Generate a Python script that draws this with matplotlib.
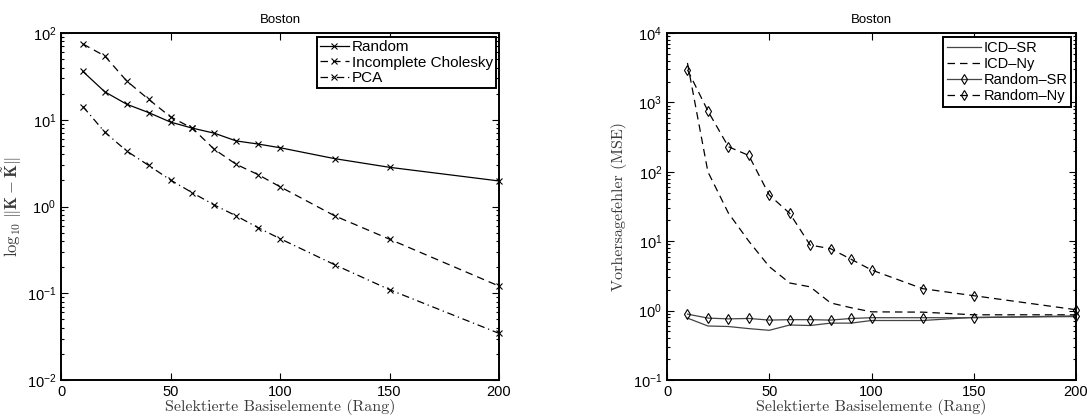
import matplotlib
matplotlib.use("Agg")
import matplotlib.pyplot as plt
from matplotlib.ticker import LogLocator, NullFormatter, FixedLocator

plt.rcParams['mathtext.fontset'] = 'cm'
plt.rcParams['font.family'] = ['Liberation Sans', 'DejaVu Sans']

# ---- data -------------------------------------------------------------
rank = [10, 20, 30, 40, 50, 60, 70, 80, 90, 100, 125, 150, 200]

# approximation error of the kernel matrix
err_random = [36, 21, 15.1, 12.1, 9.4, 8.0, 7.0, 5.7, 5.25, 4.76, 3.56, 2.83, 1.97]
err_icd = [74.7, 54.3, 28, 17.2, 10.8, 7.97, 4.56, 3.06, 2.33, 1.69, 0.78, 0.42, 0.121]
err_pca = [14.2, 7.2, 4.36, 2.98, 2.02, 1.44, 1.04, 0.78, 0.57, 0.426, 0.213, 0.11, 0.0345]

# prediction error (MSE)
mse_icd_sr = [0.78, 0.60, 0.59, 0.55, 0.52, 0.62, 0.61, 0.66, 0.66, 0.72, 0.72, 0.80, 0.82]
mse_icd_ny = [3700, 100, 25.5, 10, 4.3, 2.5, 2.2, 1.29, 1.1, 0.96, 0.95, 0.87, 0.87]
mse_rand_sr = [0.89, 0.78, 0.76, 0.77, 0.73, 0.74, 0.74, 0.73, 0.77, 0.79, 0.79, 0.79, 0.84]
mse_rand_ny = [2960, 752, 230, 172, 46.3, 25.2, 8.8, 7.8, 5.5, 3.85, 2.07, 1.64, 1.03]

x_ticks = [0, 50, 100, 150, 200]
title = "Boston"
xlabel = "Selektierte Basiselemente (Rang)"

# ---- figure -----------------------------------------------------------
W, H = 1087, 417
fig = plt.figure(figsize=(W / 100, H / 100), dpi=100)

def make_axes(x0, x1, y0, y1):
    return fig.add_axes([x0 / W, (H - y1) / H, (x1 - x0) / W, (y1 - y0) / H])

ax1 = make_axes(61, 499, 33, 380)
ax2 = make_axes(667, 1076, 33, 380)

label_color = '#3a3a3a'
serif = 'cmr10'

def style(ax, ylim):
    ax.set_yscale('log')
    ax.set_xlim(0, 200)
    ax.set_ylim(*ylim)
    ax.xaxis.set_major_locator(FixedLocator(x_ticks))
    ax.yaxis.set_major_locator(LogLocator(base=10, numticks=20))
    ax.yaxis.set_minor_locator(LogLocator(base=10, subs=range(2, 10), numticks=20))
    ax.yaxis.set_minor_formatter(NullFormatter())
    ax.tick_params(which='both', direction='in', top=True, right=True,
                   labelsize=10.5, colors='black', width=0.8)
    ax.tick_params(which='major', length=5)
    ax.tick_params(which='minor', length=2.5)
    for s in ax.spines.values():
        s.set_linewidth(1.4)
    ax.set_title(title, fontsize=9.5, pad=7)
    ax.set_xlabel(xlabel, fontsize=11.5, family=serif, color=label_color, labelpad=0)

lw = 0.9
ms = 5

# left panel
style(ax1, (1e-2, 1e2))
ax1.plot(rank, err_random, '-', color='black', lw=lw, marker='x', ms=ms, mew=0.8,
         clip_on=False, label='Random')
ax1.plot(rank, err_icd, color='black', lw=lw, ls=(0, (6, 4)), marker='x', ms=ms,
         mew=0.8, clip_on=False, label='Incomplete Cholesky')
ax1.plot(rank, err_pca, color='black', lw=lw, ls=(0, (6, 3, 1, 3)), marker='x',
         ms=ms, mew=0.8, clip_on=False, label='PCA')
ax1.set_ylabel(r'$\log_{10}\,\|\mathbf{K}-\tilde{\mathbf{K}}\|$', fontsize=12,
               color=label_color, labelpad=2)
leg1 = ax1.legend(loc='upper right', bbox_to_anchor=(0.993, 0.988), fontsize=11,
                  frameon=True, fancybox=False, edgecolor='black', framealpha=1,
                  handlelength=1.9, handletextpad=0.2, borderpad=0.2,
                  labelspacing=0.1, borderaxespad=0)
leg1.get_frame().set_linewidth(1.4)

# right panel
style(ax2, (1e-1, 1e4))
ax2.plot(rank, mse_icd_sr, '-', color='#444444', lw=lw, clip_on=False,
         label='ICD\u2013SR')
ax2.plot(rank, mse_icd_ny, color='black', lw=lw, ls=(0, (6, 4)), clip_on=False,
         label='ICD\u2013Ny')
ax2.plot(rank, mse_rand_sr, '-', color='#444444', lw=lw, marker='d', ms=5.5,
         mfc='none', mec='black', mew=0.8, clip_on=False, label='Random\u2013SR')
ax2.plot(rank, mse_rand_ny, color='black', lw=lw, ls=(0, (6, 4)), marker='d', ms=5.5,
         mfc='none', mec='black', mew=0.8, clip_on=False, label='Random\u2013Ny')
ax2.set_ylabel('Vorhersagefehler (MSE)', fontsize=11.5, family=serif,
               color=label_color, labelpad=4)
leg2 = ax2.legend(loc='upper right', bbox_to_anchor=(0.988, 0.988), fontsize=10.5,
                  frameon=True, fancybox=False, edgecolor='black', framealpha=1,
                  handlelength=2.3, handletextpad=0.2, borderpad=0.25,
                  labelspacing=0.15, borderaxespad=0)
leg2.get_frame().set_linewidth(1.4)

fig.savefig('out.png', dpi=100)
